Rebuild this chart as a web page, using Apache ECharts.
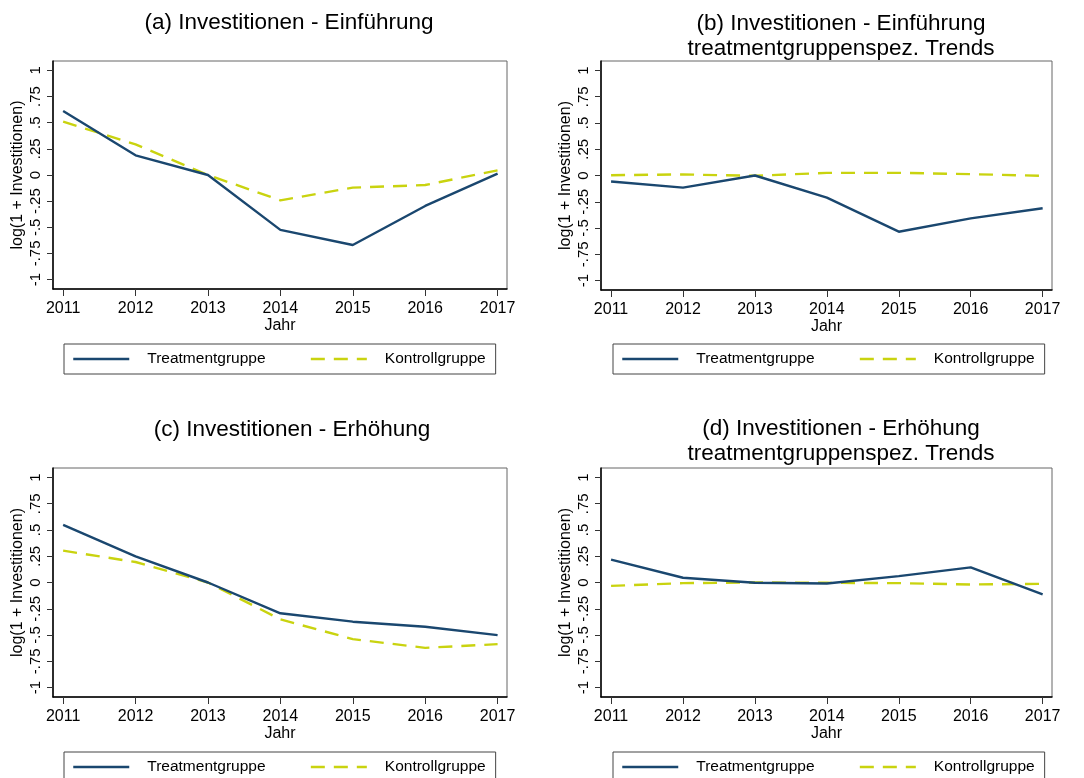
<!DOCTYPE html>
<html>
<head>
<meta charset="utf-8">
<script src="https://cdn.jsdelivr.net/npm/echarts@6/dist/echarts.min.js"></script>
<style>
  html, body { margin: 0; padding: 0; background: #fff; }
  #chart { width: 1084px; height: 778px; }
</style>
</head>
<body>
<div id="chart"></div>
<script>
// jahre und werte
const years = [2011, 2012, 2013, 2014, 2015, 2016, 2017];
const yTicks = [-1, -0.75, -0.5, -0.25, 0, 0.25, 0.5, 0.75, 1];

const treatA = [0.611, 0.188, 0, -0.525, -0.669, -0.296, 0.013];
const kontrA = [0.51, 0.293, 0, -0.242, -0.121, -0.096, 0.045];

const treatB = [-0.057, -0.115, 0, -0.21, -0.535, -0.408, -0.312];
const kontrB = [0.003, 0.01, -0.003, 0.025, 0.025, 0.013, -0.003];

const treatC = [0.549, 0.249, 0, -0.293, -0.373, -0.421, -0.501];
const kontrC = [0.303, 0.195, 0, -0.351, -0.539, -0.622, -0.587];

const treatD = [0.217, 0.045, -0.003, -0.01, 0.061, 0.144, -0.112];
const kontrD = [-0.032, -0.006, 0, -0.003, -0.006, -0.019, -0.013];

const titles = [
  '(a) Investitionen - Einführung',
  '(b) Investitionen - Einführung\ntreatmentgruppenspez. Trends',
  '(c) Investitionen - Erhöhung',
  '(d) Investitionen - Erhöhung\ntreatmentgruppenspez. Trends'
];

const NAVY = '#1a476f';
const LIME = '#c9d30f';
const FONT = 'Liberation Sans, Arial, sans-serif';

// Panel-Rahmen
const grids = [
  { left: 53, top: 61, width: 454, height: 228 },
  { left: 601, top: 61, width: 451, height: 229 },
  { left: 53, top: 468, width: 454, height: 229 },
  { left: 601, top: 468, width: 451, height: 229 }
];
const titlePos = [
  { x: 284, y: 5 }, { x: 836, y: 6 }, { x: 287, y: 412 }, { x: 836, y: 411 }
];
const legendPos = [
  { x: 64, y: 344 }, { x: 613, y: 344 }, { x: 64, y: 752 }, { x: 613, y: 752 }
];
const panelData = [[treatA, kontrA], [treatB, kontrB], [treatC, kontrC], [treatD, kontrD]];

function fmt(v) {
  if (v === 0) return '0';
  return String(v).replace('0.', '.');
}

const option = {
  animation: false,
  textStyle: { fontFamily: FONT },
  title: titles.map((t, i) => ({
    text: t,
    left: titlePos[i].x,
    top: titlePos[i].y,
    textAlign: 'center',
    textStyle: { fontSize: 22.5, fontWeight: 'normal', color: '#000', lineHeight: 25, fontFamily: FONT }
  })),
  grid: grids.map(g => Object.assign({ show: true, borderColor: '#666', borderWidth: 1 }, g)),
  legend: legendPos.map(p => ({
    left: p.x,
    top: p.y,
    orient: 'horizontal',
    data: ['Treatmentgruppe', 'Kontrollgruppe'],
    itemWidth: 56,
    itemHeight: 14,
    itemGap: 44,
    padding: [7, 10, 7, 8],
    borderColor: '#444',
    borderWidth: 1,
    selectedMode: false,
    itemStyle: { color: 'transparent', borderColor: 'transparent', borderWidth: 0 },
    lineStyle: { width: 2.5 },
    textStyle: { fontSize: 15.5, color: '#000', fontFamily: FONT, padding: [0, 0, 0, 13] }
  })),
  xAxis: grids.map((g, i) => ({
    type: 'value',
    gridIndex: i,
    min: 2010.86,
    max: 2017.13,
    name: 'Jahr',
    nameLocation: 'middle',
    nameGap: 29,
    nameTextStyle: { fontSize: 16, color: '#000', fontFamily: FONT },
    axisLine: { onZero: false, lineStyle: { color: '#000', width: 1.5 } },
    axisTick: { show: true, length: 7, lineStyle: { color: '#333' }, customValues: years },
    axisLabel: { fontSize: 16, color: '#000', margin: 12, customValues: years, formatter: v => String(v) },
    splitLine: { show: false }
  })),
  yAxis: grids.map((g, i) => ({
    type: 'value',
    gridIndex: i,
    min: -1.09,
    max: 1.09,
    name: 'log(1 + Investitionen)',
    nameLocation: 'middle',
    nameGap: 27,
    nameRotate: 90,
    nameTextStyle: { fontSize: 16, color: '#000', fontFamily: FONT },
    axisLine: { show: true, onZero: false, lineStyle: { color: '#000', width: 1.5 } },
    axisTick: { show: true, length: 6, lineStyle: { color: '#333' }, customValues: yTicks },
    axisLabel: { fontSize: 15, color: '#000', rotate: 90, margin: 10, customValues: yTicks, formatter: fmt },
    splitLine: { show: false }
  })),
  series: []
};

panelData.forEach((pair, i) => {
  option.series.push({
    name: 'Treatmentgruppe',
    type: 'line',
    xAxisIndex: i,
    yAxisIndex: i,
    symbol: 'none',
    data: years.map((y, k) => [y, pair[0][k]]),
    lineStyle: { color: NAVY, width: 2.4 },
    itemStyle: { color: NAVY },
    z: 3
  });
  option.series.push({
    name: 'Kontrollgruppe',
    type: 'line',
    xAxisIndex: i,
    yAxisIndex: i,
    symbol: 'none',
    data: years.map((y, k) => [y, pair[1][k]]),
    lineStyle: { color: LIME, width: 2.4, type: [14, 9] },
    itemStyle: { color: LIME },
    z: 2
  });
});

const chart = echarts.init(document.getElementById('chart'));
chart.setOption(option);
</script>
</body>
</html>
